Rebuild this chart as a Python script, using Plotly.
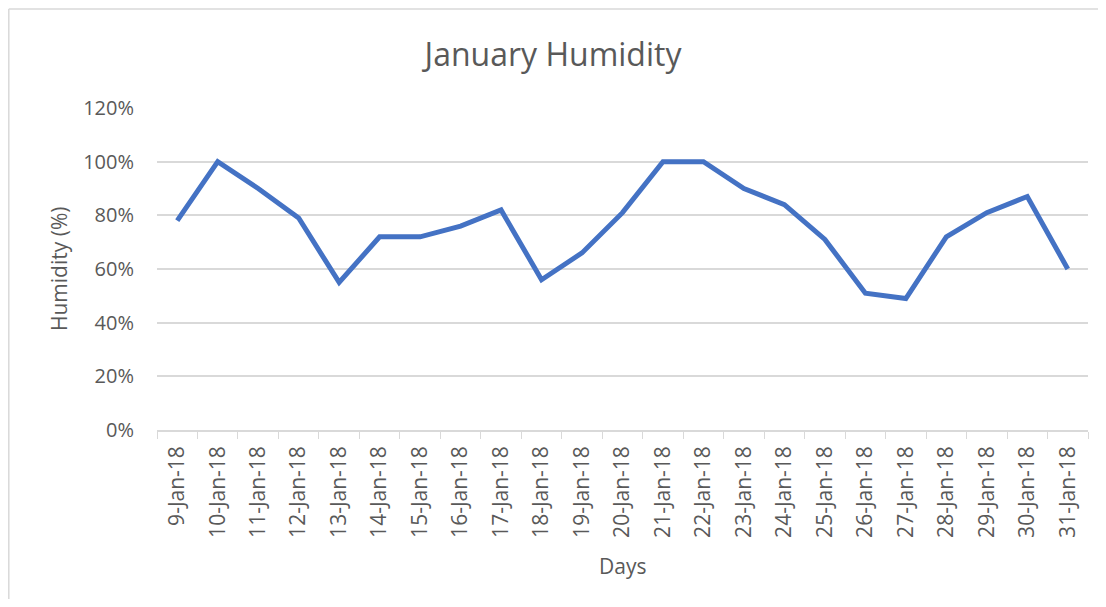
import plotly.graph_objects as go

days = ["9-Jan-18", "10-Jan-18", "11-Jan-18", "12-Jan-18", "13-Jan-18", "14-Jan-18",
        "15-Jan-18", "16-Jan-18", "17-Jan-18", "18-Jan-18", "19-Jan-18", "20-Jan-18",
        "21-Jan-18", "22-Jan-18", "23-Jan-18", "24-Jan-18", "25-Jan-18", "26-Jan-18",
        "27-Jan-18", "28-Jan-18", "29-Jan-18", "30-Jan-18", "31-Jan-18"]
humidity = [0.78, 1.00, 0.90, 0.79, 0.55, 0.72, 0.72, 0.76, 0.82, 0.56, 0.66, 0.81,
            1.00, 1.00, 0.90, 0.84, 0.71, 0.51, 0.49, 0.72, 0.81, 0.87, 0.60]

font_family = "Open Sans, Liberation Sans, sans-serif"
text_color = "#595959"
grid_color = "#d9d9d9"

# the page adds an 8px body margin, so the figure is 16px smaller than the window
W, H = 1090, 591
L, R, T, B = 149, 10, 100, 169
plot_w = W - L - R
plot_h = H - T - B

fig = go.Figure(go.Scatter(
    x=days, y=humidity, mode="lines",
    line=dict(color="#4472C4", width=5),
    hoverinfo="x+y",
))

fig.update_layout(
    width=W, height=H,
    margin=dict(l=L, r=R, t=T, b=B),
    paper_bgcolor="white", plot_bgcolor="white",
    font=dict(family=font_family, color=text_color, size=20),
    title=dict(text="January Humidity", x=0.5, xanchor="center",
               yref="container", y=1 - 47 / H, yanchor="middle",
               font=dict(size=32, color=text_color, family=font_family)),
    showlegend=False,
)

fig.update_xaxes(
    type="category", range=[-0.5, len(days) - 0.5],
    tickangle=-90, tickson="boundaries", ticks="outside", ticklen=7,
    tickcolor=grid_color, showline=True, linecolor=grid_color, linewidth=1.5,
    showgrid=False, tickfont=dict(size=21, color=text_color),
    ticklabelstandoff=6,
)
fig.update_yaxes(
    range=[0, 1.2], dtick=0.2, tickformat=".0%",
    showgrid=True, gridcolor=grid_color, gridwidth=1.5, zeroline=False,
    showline=False, ticks="", tickfont=dict(size=20, color=text_color),
    ticklabelstandoff=22,
)

# axis titles
fig.add_annotation(text="Days", xref="paper", yref="paper",
                   x=0.5, y=(plot_h - (558 - T)) / plot_h,
                   xanchor="center", yanchor="middle", showarrow=False,
                   font=dict(size=21, color=text_color))
fig.add_annotation(text="Humidity (%)", xref="paper", yref="paper",
                   x=(51 - L) / plot_w, y=0.5, textangle=-90,
                   xanchor="center", yanchor="middle", showarrow=False,
                   font=dict(size=21, color=text_color))

# outer chart frame (only the left and top edges are visible in the reference)
frame_x = (0.8 - L) / plot_w
frame_top = (plot_h + T - 1) / plot_h
fig.add_shape(type="line", xref="paper", yref="paper",
              x0=frame_x, x1=frame_x, y0=-1.0, y1=frame_top,
              line=dict(color="#d9d9d9", width=1.5), layer="below")
fig.add_shape(type="line", xref="paper", yref="paper",
              x0=frame_x, x1=(W + 20 - L) / plot_w, y0=frame_top, y1=frame_top,
              line=dict(color="#d9d9d9", width=1.5), layer="below")

fig.write_html("out.html")
